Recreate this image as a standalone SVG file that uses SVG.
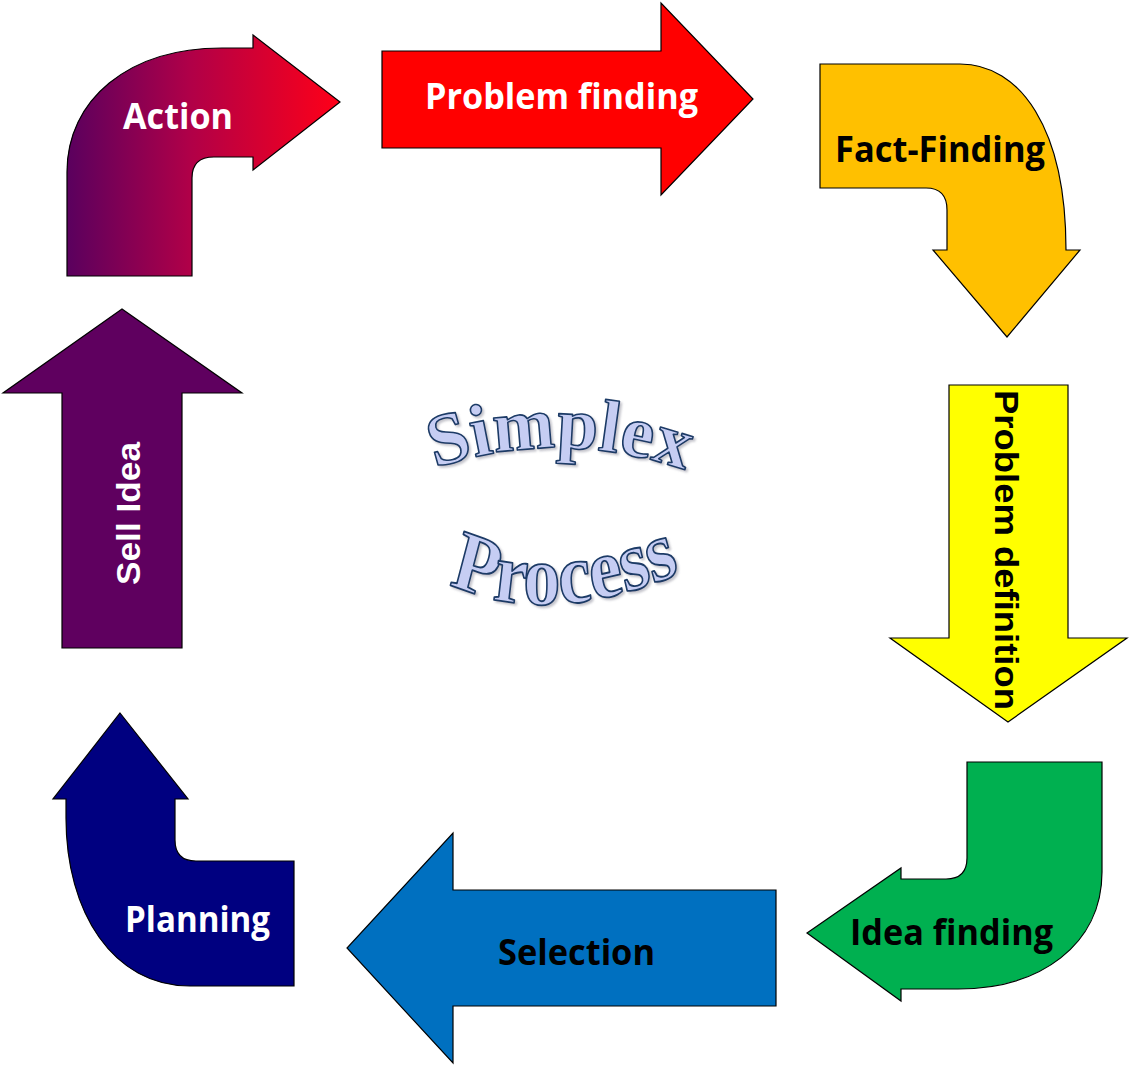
<svg xmlns="http://www.w3.org/2000/svg" width="1131" height="1067" viewBox="0 0 1131 1067">
<style>
.shape{stroke:#000;stroke-width:1.2;stroke-linejoin:miter}
.lbl{font-family:"Open Sans","Noto Sans","Liberation Sans",sans-serif;font-weight:700;font-size:36px}
.lbl2{font-family:"Liberation Sans",Arial,sans-serif;font-weight:700;font-size:34px}
.w{fill:#fff}
.b{fill:#000}
.wa{font-family:"Liberation Serif","Times New Roman",serif;font-weight:700;font-size:74px;fill:#c6cdf3;stroke:#1b3a66;stroke-width:1.6;stroke-linejoin:round}
</style>
<defs>
<linearGradient id="gAction" x1="67" y1="0" x2="340" y2="0" gradientUnits="userSpaceOnUse">
<stop offset="0" stop-color="#5a005e"/>
<stop offset="0.45" stop-color="#b00048"/>
<stop offset="1" stop-color="#ff0018"/>
</linearGradient>
<filter id="sh" x="-10%" y="-20%" width="120%" height="140%">
<feDropShadow dx="2" dy="2" stdDeviation="1" flood-color="#707080" flood-opacity="0.4"/>
</filter>
<path id="arcS" d="M430,470 Q558,425 690,472"/>
<path id="arcP" d="M438,498 Q540,548 692,490"/>
</defs>

<g id="connectors"></g>

<g id="action">
<path class="shape" fill="url(#gAction)" d="M67,276 L67,172 C67,100 128,48 222,48 L253,48 L253,35 L340,102 L253,170 L253,157 L214,157 Q192,157 192,178 L192,276 Z"/>
<text class="lbl w" x="123" y="129" textLength="110" lengthAdjust="spacingAndGlyphs">Action</text>
</g>

<g id="problem-finding">
<path class="shape" fill="#ff0000" d="M382,51 L661,51 L661,3 L753,99 L661,195 L661,148 L382,148 Z"/>
<text class="lbl w" x="425" y="109" textLength="273" lengthAdjust="spacingAndGlyphs">Problem finding</text>
</g>

<g id="fact-finding">
<path class="shape" fill="#ffc000" d="M820,64 L960,64 C1020,64 1066,128 1066,250 L1080,250 L1007,337 L933,250 L947,250 L947,210 Q947,188 926,188 L820,188 Z"/>
<text class="lbl b" x="835" y="162" textLength="210" lengthAdjust="spacingAndGlyphs">Fact-Finding</text>
</g>

<g id="problem-definition">
<path class="shape" fill="#ffff00" d="M949,385 L1068,385 L1068,638 L1127,638 L1008,722 L890,638 L949,638 Z"/>
<text class="lbl2 b" transform="translate(995,390) rotate(90)" x="0" y="0" textLength="320" lengthAdjust="spacingAndGlyphs">Problem definition</text>
</g>

<g id="idea-finding">
<path class="shape" fill="#00b050" d="M967,762 L1102,762 L1102,872 C1102,945 1040,989 958,989 L901,989 L901,1001 L807,933 L901,868 L901,879 L946,879 Q967,879 967,858 Z"/>
<text class="lbl b" x="850" y="945" textLength="203" lengthAdjust="spacingAndGlyphs">Idea finding</text>
</g>

<g id="selection">
<path class="shape" fill="#0070c0" d="M776,890 L453,890 L453,833 L347,948 L453,1063 L453,1006 L776,1006 Z"/>
<text class="lbl b" x="498" y="965" textLength="157" lengthAdjust="spacingAndGlyphs">Selection</text>
</g>

<g id="planning">
<path class="shape" fill="#000080" d="M120,713 L188,799 L175,799 L175,840 Q175,861 196,861 L294,861 L294,986 L190,986 C113,986 66,912 66,818 L66,799 L53,799 Z"/>
<text class="lbl w" x="125" y="932" textLength="145" lengthAdjust="spacingAndGlyphs">Planning</text>
</g>

<g id="sell-idea">
<path class="shape" fill="#5f005f" d="M62,648 L62,393 L3,393 L122,309 L242,393 L182,393 L182,648 Z"/>
<text class="lbl2 w" transform="translate(140,585) rotate(-90)" x="0" y="0" textLength="143" lengthAdjust="spacingAndGlyphs">Sell Idea</text>
</g>

<g id="title" filter="url(#sh)">
<text class="wa"><textPath href="#arcS" startOffset="50%" text-anchor="middle">Simplex</textPath></text>
<g transform="scale(1,1.16)">
<text class="wa"><textPath href="#arcP" startOffset="50%" text-anchor="middle">Process</textPath></text>
</g>
</g>
</svg>
